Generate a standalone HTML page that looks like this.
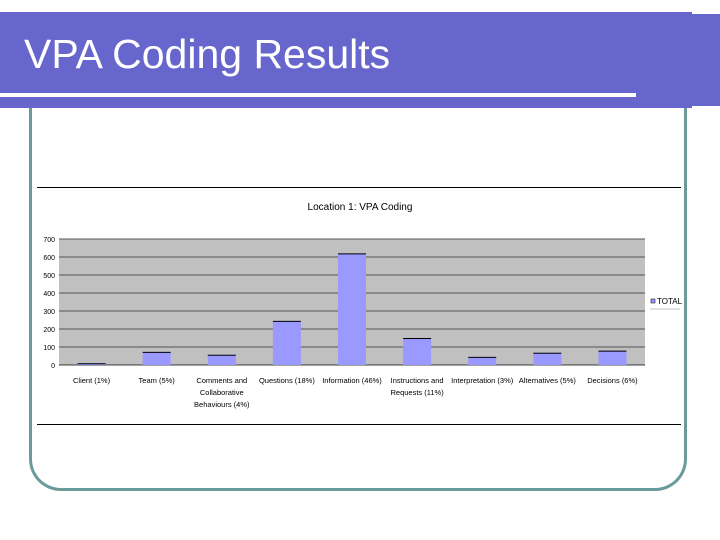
<!DOCTYPE html>
<html><head><meta charset="utf-8"><style>
body{margin:0;width:720px;height:540px;background:#fff;position:relative;overflow:hidden;font-family:"Liberation Sans",sans-serif}
.abs{position:absolute}
</style></head><body>
<div class="abs" style="left:0;top:12px;width:692px;height:96px;background:#6666cc"></div>
<div class="abs" style="left:692px;top:14px;width:28px;height:92px;background:#6666cc"></div>
<div class="abs" style="left:0;top:93px;width:636px;height:4px;background:#fff"></div>
<div class="abs" style="left:24px;top:31px;color:#fff;font-size:41px">VPA Coding Results</div>
<div class="abs" style="left:29px;top:108px;width:652px;height:380px;border:3px solid #6a9a9a;border-top:none;border-radius:0 0 32px 32px"></div>
<svg class="abs" style="left:0;top:0" width="720" height="540" id="chart">
<line x1="37" y1="187.5" x2="681" y2="187.5" stroke="#000"/>
<line x1="37" y1="424.5" x2="681" y2="424.5" stroke="#000"/>
<text x="360" y="210" font-size="10" text-anchor="middle" font-family="Liberation Sans">Location 1: VPA Coding</text>
<rect x="59" y="239" width="586" height="126" fill="#c0c0c0"/>
<g id="g"></g>
<rect x="651" y="299" width="4" height="4" fill="#9999ff" stroke="#000" stroke-width="0.5"/>
<text x="657" y="304" font-size="8" font-family="Liberation Sans">TOTAL</text>
<line x1="650" y1="309" x2="680" y2="309" stroke="#888" stroke-width="0.5"/>
</svg>
<script>
const categories=["Client (1%)","Team (5%)","Comments and|Collaborative|Behaviours (4%)","Questions (18%)","Information (46%)","Instructions and|Requests (11%)","Interpretation (3%)","Alternatives (5%)","Decisions (6%)"];
const values=[10,73,57,245,620,150,45,68,80];
const ticks=[0,100,200,300,400,500,600,700];
const g=document.getElementById('g');const NS='http://www.w3.org/2000/svg';
const x0=59,x1=645,yT=239,yB=365,max=700;
const y=v=>yB-(v/max)*(yB-yT);
const cw=(x1-x0)/categories.length;
function mk(t,a){const e=document.createElementNS(NS,t);for(const k in a)e.setAttribute(k,a[k]);g.appendChild(e);return e;}
ticks.forEach(t=>{
 if(t>0){const l=mk('line',{x1:x0,x2:x1,y1:y(t),y2:y(t),stroke:'#555','stroke-width':1});
 
 }
 const tx=mk('text',{x:55,y:y(t)+3,'font-size':7,'text-anchor':'end','font-family':'Liberation Sans'});tx.textContent=t;
 
 
});
mk('line',{x1:x0,x2:x1,y1:yB,y2:yB,stroke:'#000','stroke-width':0.7});
values.forEach((v,i)=>{
 const cx=x0+cw*(i+0.5),bw=28;
 const r=mk('rect',{x:cx-bw/2,y:y(v),width:bw,height:yB-y(v),fill:'#9999ff'});
 
 
 mk('line',{x1:cx-bw/2,x2:cx+bw/2,y1:y(v)+0.5,y2:y(v)+0.5,stroke:'#000','stroke-width':1});
 categories[i].split('|').forEach((s,j)=>{
  const t=mk('text',{x:cx,y:yB+18+j*12,'font-size':7.5,'text-anchor':'middle','font-family':'Liberation Sans'});t.textContent=s;
  
  
 });
});
</script>
</body></html>
